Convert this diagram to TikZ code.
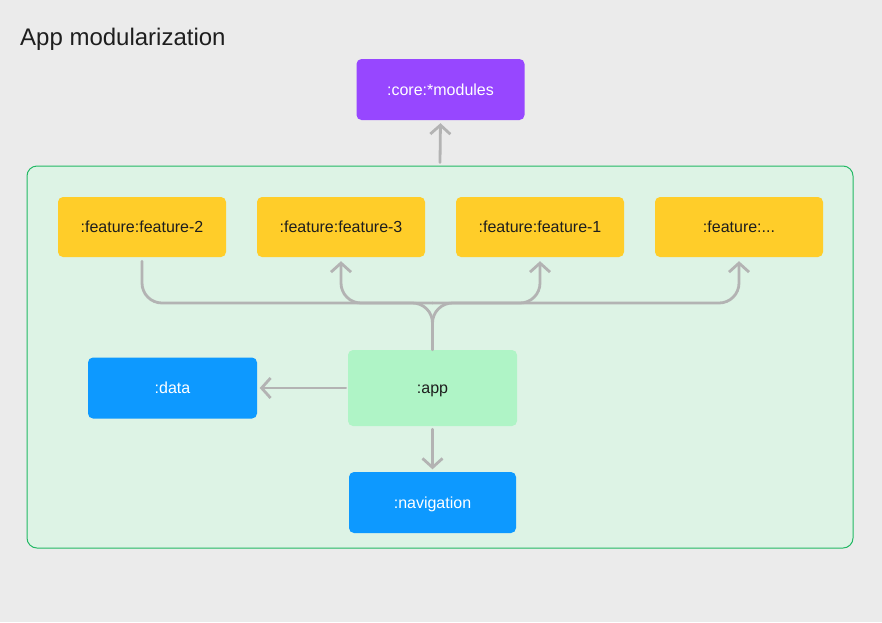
\documentclass[tikz,border=0pt]{standalone}
\usepackage{fontspec}
\setmainfont{Liberation Sans}
\usetikzlibrary{arrows.meta}
\definecolor{bgc}{HTML}{EBEBEB}
\definecolor{purp}{HTML}{9747FF}
\definecolor{yel}{HTML}{FFCD29}
\definecolor{blu}{HTML}{0D99FF}
\definecolor{appg}{HTML}{AFF4C6}
\definecolor{framefill}{HTML}{DDF3E5}
\definecolor{framedraw}{HTML}{22B864}
\definecolor{linegray}{HTML}{B3B3B3}
\definecolor{txt}{HTML}{1E1E1E}
\tikzset{
  modbox/.style={rounded corners=5pt, inner sep=0pt, minimum width=168pt, minimum height=61pt,
    font=\fontsize{16}{19}\selectfont, text height=11pt, text depth=0pt},
  corebox/.style={modbox, fill=purp, text=white},
  featbox/.style={modbox, fill=yel, text=txt, minimum height=60pt},
  bluebox/.style={modbox, fill=blu, text=white},
  appbox/.style={modbox, fill=appg, text=txt, minimum height=76pt},
  conn/.style={draw=linegray, line width=2.8pt, line cap=round, line join=round},
  arr/.style={conn, -{Straight Barb[length=9pt,width=20pt]}},
}
\begin{document}
\begin{tikzpicture}[x=1pt,y=-1pt]
\fill[bgc] (0,0) rectangle (882,622);
\useasboundingbox (0,0) rectangle (882,622);
\node[anchor=base west, text=txt, font=\fontsize{24}{28}\selectfont, inner sep=0pt] (title) at (20,45) {App modularization};
\node[draw=framedraw, fill=framefill, line width=1pt, rounded corners=10pt, minimum width=826pt, minimum height=382pt, inner sep=0pt] (frame) at (440,357) {};
\node[corebox] (core) at (440.5,89.5) {:core:*modules};
\node[featbox] (f2) at (142,227) {:feature:feature-2};
\node[featbox] (f3) at (341,227) {:feature:feature-3};
\node[featbox] (f1) at (540,227) {:feature:feature-1};
\node[featbox] (fx) at (739,227) {:feature:...};
\node[bluebox, minimum width=169pt] (data) at (172.5,388) {:data};
\node[appbox, minimum width=169pt] (app) at (432.5,388) {:app};
\node[bluebox, minimum width=167pt] (nav) at (432.5,502.5) {:navigation};
\coordinate (bus) at (432,303);
% core arrow
\draw[arr, shorten >=3pt] ([yshift=3pt]frame.north) -- (core.south);
% feature bus
\draw[conn, rounded corners=20pt, shorten >=4pt] (app.north) -- (app.north |- bus) -- (f2.south |- bus) -- (f2.south);
\draw[arr, rounded corners=20pt, shorten >=4pt] (app.north) -- (app.north |- bus) -- (fx.south |- bus) -- (fx.south);
\draw[arr, rounded corners=20pt, shorten >=4pt] (app.north |- bus) -- (f3.south |- bus) -- (f3.south);
\draw[arr, rounded corners=20pt, shorten >=4pt] (app.north |- bus) -- (f1.south |- bus) -- (f1.south);
% data, navigation
\draw[arr, shorten >=2.5pt, shorten <=2pt] (app.west) -- (data.east);
\draw[arr, shorten >=2.5pt, shorten <=3pt] (app.south) -- (nav.north);
\end{tikzpicture}
\end{document}
